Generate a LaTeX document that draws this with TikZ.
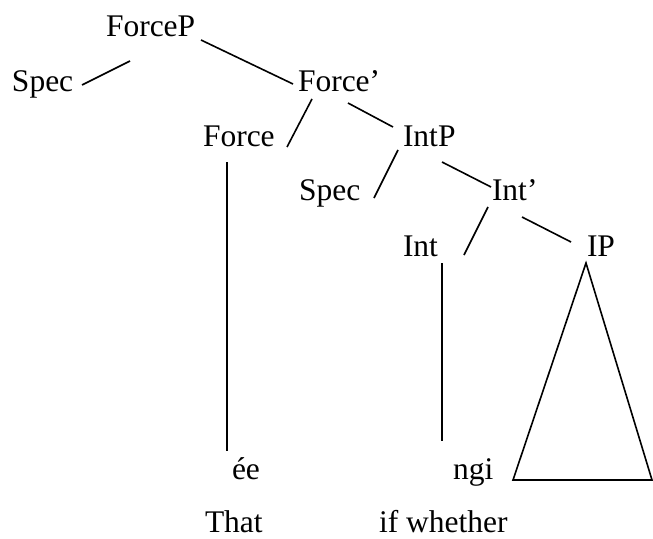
\documentclass[tikz,border=0pt]{standalone}
\usepackage{fontspec}
\setmainfont{Liberation Serif}
\tikzset{
  lbl/.style={anchor=base west, inner sep=0pt, outer sep=0pt, font=\fontsize{31.5}{36}\selectfont},
  branch/.style={line width=1.6pt, line cap=butt},
}
\begin{document}
\begin{tikzpicture}[x=1pt,y=-1pt]
\useasboundingbox (0,0) rectangle (653,538);
% labels
\node[lbl] (forcep) at (106,36) {ForceP};
\node[lbl] (spec1) at (12,91) {Spec};
\node[lbl] (forcebar) at (298,91) {Force’};
\node[lbl] (force) at (203,146) {Force};
\node[lbl] (intp) at (403,146) {IntP};
\node[lbl] (spec2) at (299,200) {Spec};
\node[lbl] (intbar) at (492,200) {Int’};
\node[lbl] (int) at (403,256) {Int};
\node[lbl] (ip) at (587,256) {IP};
\node[lbl] (ee) at (232,479) {ée};
\node[lbl] (ngi) at (453,479) {ngi};
\node[lbl, text depth=0pt] (that) at (205,532) {That};
\node[lbl, text depth=0pt] (ifwh) at (379,532) {if whether};
% branch end points
\coordinate (a1) at (82,85);   \coordinate (a2) at (130,61);
\coordinate (b1) at (201,40);  \coordinate (b2) at (293,84);
\coordinate (c1) at (312,99);  \coordinate (c2) at (287,147);
\coordinate (d1) at (348,103); \coordinate (d2) at (393,127);
\coordinate (e1) at (398,150); \coordinate (e2) at (374,198);
\coordinate (f1) at (442,162); \coordinate (f2) at (491,187);
\coordinate (g1) at (488,207); \coordinate (g2) at (464,255);
\coordinate (h1) at (522,217); \coordinate (h2) at (571,242);
\coordinate (v1) at (227,162); \coordinate (v2) at (227,451);
\coordinate (w1) at (442,263); \coordinate (w2) at (442,441);
\coordinate (tA) at (586,263); \coordinate (tB) at (513,480); \coordinate (tC) at (652,480);
% branches
\draw[branch] (a1) -- (a2);
\draw[branch] (b1) -- (b2);
\draw[branch] (c1) -- (c2);
\draw[branch] (d1) -- (d2);
\draw[branch] (e1) -- (e2);
\draw[branch] (f1) -- (f2);
\draw[branch] (g1) -- (g2);
\draw[branch] (h1) -- (h2);
\draw[branch] (v1) -- (v2);
\draw[branch] (w1) -- (w2);
\draw[branch, line join=miter] (tA) -- (tB) -- (tC) -- cycle;
\end{tikzpicture}
\end{document}
